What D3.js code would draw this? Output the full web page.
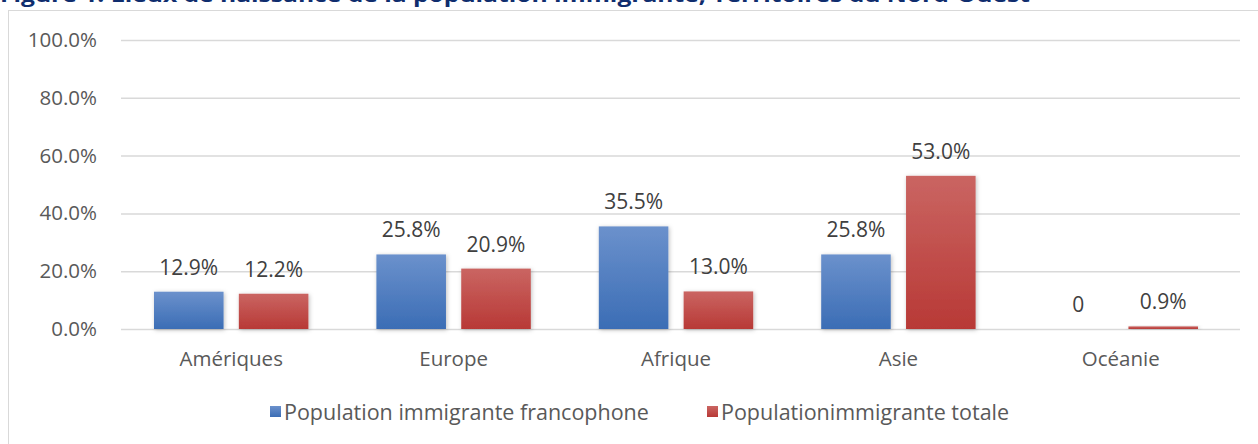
<!DOCTYPE html>
<html>
<head>
<meta charset="utf-8">
<script src="https://cdn.jsdelivr.net/npm/d3@7"></script>
<style>
  body { margin: 0; background: #fff; }
  svg { display: block; }
  svg text { font-family: "Open Sans", sans-serif; }
</style>
</head>
<body>
<svg id="chart" width="1258" height="444"></svg>
<script>
// données
var categories = ["Amériques", "Europe", "Afrique", "Asie", "Océanie"];
var series = ["Population immigrante francophone", "Populationimmigrante totale"];
var francophone = [12.9, 25.8, 35.5, 25.8, 0];
var totale = [12.2, 20.9, 13.0, 53.0, 0.9];
var francophoneLabels = ["12.9%", "25.8%", "35.5%", "25.8%", "0"];
var totaleLabels = ["12.2%", "20.9%", "13.0%", "53.0%", "0.9%"];
var yTicks = [0, 20, 40, 60, 80, 100];

var svg = d3.select("#chart");
var defs = svg.append("defs");

function gradient(id, top, bottom) {
    var g = defs.append("linearGradient").attr("id", id)
        .attr("x1", 0).attr("y1", 0).attr("x2", 0).attr("y2", 1);
    g.append("stop").attr("offset", "0%").attr("stop-color", top);
    g.append("stop").attr("offset", "100%").attr("stop-color", bottom);
}
gradient("gBlue", "#6b91cc", "#3b6db5");
gradient("gRed", "#ca6562", "#b83936");

var f = defs.append("filter").attr("id", "shadow")
    .attr("x", "-20%").attr("y", "-20%").attr("width", "140%").attr("height", "140%");
f.append("feDropShadow").attr("dx", 1).attr("dy", 1).attr("stdDeviation", 2)
    .attr("flood-color", "#000").attr("flood-opacity", 0.25);

var fills = ["url(#gBlue)", "url(#gRed)"];

// titre (coupé en haut comme dans l'original)
svg.append("text")
    .attr("x", 0)
    .attr("y", 2)
    .attr("textLength", 1030)
    .attr("lengthAdjust", "spacingAndGlyphs")
    .style("font-size", "20px")
    .style("font-weight", "bold")
    .style("fill", "#0f2d6e")
    .text("Figure 1. Lieux de naissance de la population immigrante, Territoires du Nord-Ouest");

// cadre du graphique
svg.append("rect")
    .attr("x", 8.5).attr("y", 10.5)
    .attr("width", 1262).attr("height", 450)
    .attr("fill", "none")
    .attr("stroke", "#d9d9d9");

var x0 = d3.scaleBand().domain(categories).range([120, 1232]);
var x1 = d3.scaleBand().domain(series)
    .range([34, x0.bandwidth() - 34])
    .paddingInner(0.18);
var y = d3.scaleLinear().domain([0, 100]).range([329, 40]);

// lignes de quadrillage
var yAxis = d3.axisLeft(y)
    .tickValues(yTicks)
    .tickSize(-(1240 - 121))
    .tickPadding(24)
    .tickFormat(function(d) { return d.toFixed(1) + "%"; });

var gy = svg.append("g")
    .attr("transform", "translate(121,0)")
    .call(yAxis);
gy.select(".domain").remove();
gy.selectAll(".tick line").attr("stroke", "#d9d9d9").attr("stroke-width", 1.5);
gy.selectAll(".tick text")
    .style("font-size", "20.5px")
    .style("fill", "#595959")
    .attr("x", -24);

// axe des catégories
var xAxis = d3.axisBottom(x0).tickSize(0).tickPadding(22);
var gx = svg.append("g")
    .attr("transform", "translate(0,329)")
    .call(xAxis);
gx.select(".domain").remove();
gx.selectAll(".tick text")
    .style("font-size", "20.5px")
    .style("fill", "#595959");

// barres
var rows = categories.map(function(c, i) {
    return [
        { cat: c, s: series[0], v: francophone[i], label: francophoneLabels[i], k: 0 },
        { cat: c, s: series[1], v: totale[i], label: totaleLabels[i], k: 1 }
    ];
});

var groups = svg.selectAll(".grp")
    .data(rows)
    .enter()
    .append("g")
    .attr("class", "grp")
    .attr("transform", function(d, i) { return "translate(" + x0(categories[i]) + ",0)"; });

groups.selectAll("rect")
    .data(function(d) { return d; })
    .enter()
    .append("rect")
    .attr("x", function(d) { return x1(d.s); })
    .attr("y", function(d) { return y(d.v); })
    .attr("width", x1.bandwidth())
    .attr("height", function(d) { return y(0) - y(d.v); })
    .attr("fill", function(d) { return fills[d.k]; })
    .attr("filter", "url(#shadow)");

groups.selectAll("text")
    .data(function(d) { return d; })
    .enter()
    .append("text")
    .attr("x", function(d) { return x1(d.s) + x1.bandwidth() / 2; })
    .attr("y", function(d) { return y(d.v) - 17; })
    .attr("text-anchor", "middle")
    .style("font-size", "21px")
    .style("fill", "#404040")
    .text(function(d) { return d.label; });

// légende
var legendX = [270, 707];
var legend = svg.selectAll(".legend")
    .data(series)
    .enter()
    .append("g")
    .attr("class", "legend")
    .attr("transform", function(d, i) { return "translate(" + legendX[i] + ",406)"; });

legend.append("rect")
    .attr("width", 11)
    .attr("height", 11)
    .attr("fill", function(d, i) { return fills[i]; });

legend.append("text")
    .attr("x", 14)
    .attr("y", 6)
    .attr("dy", ".35em")
    .style("font-size", "21.5px")
    .style("fill", "#595959")
    .text(function(d) { return d; });
</script>
</body>
</html>
